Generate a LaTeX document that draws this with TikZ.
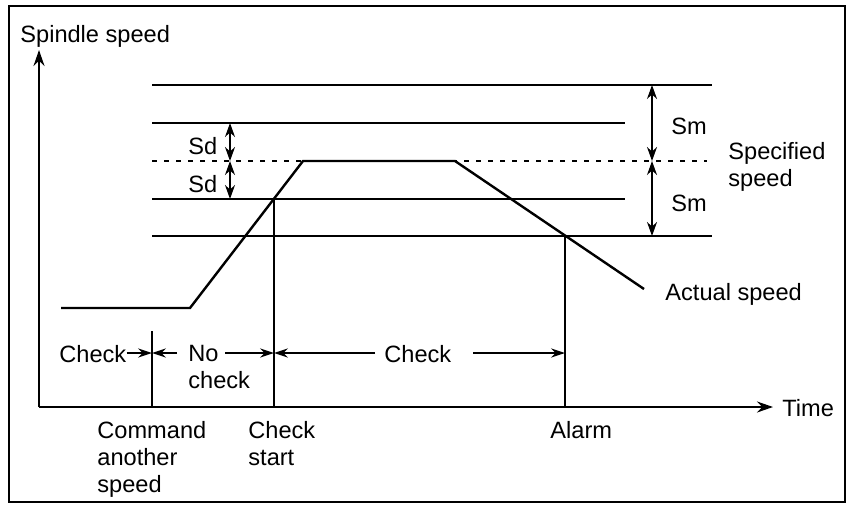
\documentclass[tikz,border=0pt]{standalone}
\usepackage{fontspec}
\setmainfont{Liberation Sans}
\usetikzlibrary{arrows.meta, positioning, calc}

\begin{document}
\begin{tikzpicture}[
    x=0.5pt, y=-0.5pt,
    every node/.style={font=\fontsize{11.8}{13.5}\selectfont, inner sep=0pt},
    lbl/.style={anchor=base west, align=left},
    level/.style={line width=0.65pt},
    axis/.style={line width=1pt, -{Stealth[length=8pt,width=5.5pt]}},
    dim/.style={line width=0.75pt, {Stealth[length=7pt,width=5pt]}-{Stealth[length=7pt,width=5pt]}},
    arrow/.style={line width=0.75pt, -{Stealth[length=7pt,width=4.6pt]}},
    speed/.style={line width=1.2pt, line join=miter}
]

\useasboundingbox (0,0) rectangle (850,504);
\draw[line width=0.9pt] (9,6) rectangle (845,502);

\coordinate (origin) at (39,407);
\coordinate (ytop) at (39,50);
\coordinate (xend) at (773,407);

\node[lbl] (yname) at (20,42) {Spindle speed};
\node[lbl] (xname) at (782,416) {Time};
\draw[axis] (origin) -- (ytop);
\draw[axis] (origin) -- (xend);

\draw[level] (152,85) -- (712,85);
\draw[level] (152,123) -- (625,123);
\draw[level, dash pattern=on 2.5pt off 3.5pt] (152,161) -- (707,161);
\draw[level] (152,199) -- (625,199);
\draw[level] (152,236) -- (712,236);

\coordinate (sdtop) at (230,123);
\coordinate (sdmid) at (230,161);
\coordinate (sdbot) at (230,199);
\draw[dim] (sdtop) -- (sdmid);
\draw[dim] (sdmid) -- (sdbot);
\node[lbl] (sd1) at (188,154) {Sd};
\node[lbl] (sd2) at (188,192) {Sd};

\coordinate (smtop) at (652,85);
\coordinate (smmid) at (652,161);
\coordinate (smbot) at (652,236);
\draw[dim] (smtop) -- (smmid);
\draw[dim] (smmid) -- (smbot);
\node[lbl] (sm1) at (671,134) {Sm};
\node[lbl] (sm2) at (671,211) {Sm};
\node[lbl] (spec) at (728,186) {Specified\\speed};

\draw[speed] (61,308) -- (190,308) -- (303,161) -- (455,161) -- (644,289);
\node[lbl] (actual) at (665,300) {Actual speed};

\coordinate (cmd) at (152,353);
\coordinate (cks) at (274,353);
\coordinate (alm) at (565,353);
\draw[level] (152,331) -- (origin -| cmd);
\draw[level] (274,199) -- (origin -| cks);
\draw[level] (565,236) -- (origin -| alm);

\node[lbl] (chk1) at (59,362) {Check};
\node[lbl] (nochk) at (188,388) {No\\check};
\node[lbl] (chk2) at (384,362) {Check};
\draw[arrow] (chk1.east |- cmd) -- (cmd);
\draw[arrow] (177,353) -- (cmd);
\draw[arrow] (225,353) -- (cks);
\draw[arrow] (375,353) -- (cks);
\draw[arrow] (473,353) -- (alm);

\node[lbl] (cmdtxt) at (97,492) {Command\\another\\speed};
\node[lbl] (ckstxt) at (248,465) {Check\\start};
\node[lbl] (almtxt) at (550,438) {Alarm};

\end{tikzpicture}
\end{document}
